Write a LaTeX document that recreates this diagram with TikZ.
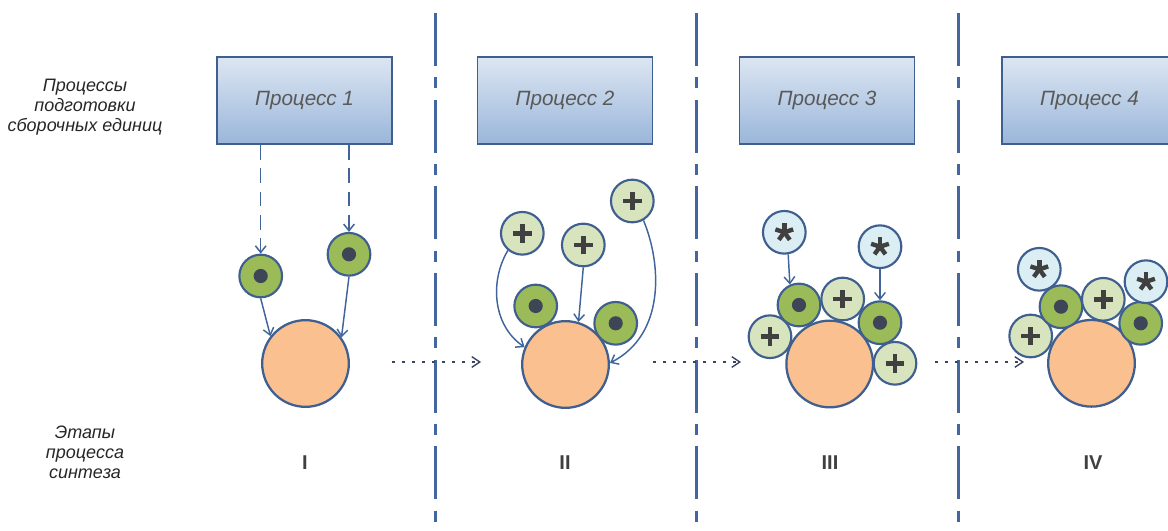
\documentclass[tikz,border=0pt]{standalone}
\usepackage{fontspec}
\setmainfont{Liberation Sans}
\usetikzlibrary{arrows.meta}
\definecolor{bordc}{HTML}{3E5F8F}
\definecolor{arrc}{HTML}{41659A}
\definecolor{divc}{HTML}{4466A0}
\definecolor{greenf}{HTML}{9BBB59}
\definecolor{plusf}{HTML}{D7E4BD}
\definecolor{starf}{HTML}{DBEEF4}
\definecolor{orangef}{HTML}{FAC090}
\definecolor{dotc}{HTML}{3D4556}
\definecolor{markc}{HTML}{404040}
\definecolor{boxtop}{HTML}{DCE6F2}
\definecolor{boxbot}{HTML}{9AB6DA}
\definecolor{txtc}{HTML}{595959}
\definecolor{labc}{HTML}{262626}
\definecolor{dotarc}{HTML}{3A4560}
\begin{document}
\begin{tikzpicture}[x=0.75pt,y=-0.75pt,
  small/.style={circle, draw=bordc, line width=1.6pt, minimum size=32pt, inner sep=0pt},
  greenc/.style={small, fill=greenf, path picture={\fill[dotc] (path picture bounding box.center) circle (5.3pt);}},
  plusc/.style={small, fill=plusf, path picture={
     \draw[markc, line width=3.6pt] ([xshift=-7pt]path picture bounding box.center) -- ([xshift=7pt]path picture bounding box.center);
     \draw[markc, line width=3.6pt] ([yshift=-7pt]path picture bounding box.center) -- ([yshift=7pt]path picture bounding box.center);}},
  starc/.style={small, fill=starf, path picture={
     \foreach \a in {90,162,234,306,18} \draw[markc, line width=3.3pt] (path picture bounding box.center) -- ++(\a:7pt);}},
  big/.style={circle, draw=bordc, line width=1.7pt, fill=orangef, minimum size=65pt, inner sep=0pt},
  pbox/.style={draw=bordc, line width=1.4pt, top color=boxtop, bottom color=boxbot, minimum width=131.25pt, minimum height=65.25pt, font=\fontsize{15.5}{18}\selectfont\itshape, text=txtc},
  arr/.style={arrc, line width=1.1pt, -{Straight Barb[length=5pt,width=8pt]}},
  darr/.style={arr, dash pattern=on 11pt off 6.5pt},
  divl/.style={divc, line width=1.8pt, dash pattern=on 39.75pt off 8.5pt on 8.25pt off 8.5pt},
  dotarr/.style={dotarc, line width=1pt, dash pattern=on 2.5pt off 5pt, -{Straight Barb[length=6pt,width=8pt]}},
  lab/.style={align=center, font=\fontsize{13.5}{15}\selectfont\itshape, text=labc},
  roman/.style={font=\fontsize{15}{18}\selectfont\bfseries, text=markc}
]
\useasboundingbox (0,0) rectangle (1168,531);
\clip (0,0) rectangle (1168,531);

% dividers
\draw[divl] (435.5,13) -- (435.5,531);
\draw[divl] (696.5,13) -- (696.5,531);
\draw[divl] (958.3,13) -- (958.3,531);

% left labels
\node[lab] (l1) at (85,107) {Процессы\\подготовки\\сборочных единиц};
\node[lab] (l2) at (85,452) {Этапы\\процесса\\синтеза};

% process boxes
\node[pbox] (b1) at (304.5,100.5) {Процесс 1};
\node[pbox] (b2) at (565,100.5) {Процесс 2};
\node[pbox] (b3) at (827,100.5) {Процесс 3};
\node[pbox] (b4) at (1089.5,100.5) {Процесс 4};

% Stage I
\node[big] (c1) at (305.5,363.5) {};
\node[greenc] (g11) at (260.7,276) {};
\node[greenc] (g12) at (349,254.3) {};
\draw[darr] (g11.north |- b1.south) -- (g11.north);
\draw[darr] (g12.north |- b1.south) -- (g12.north);
\draw[arr] (g11.south) -- (c1.142);
\draw[arr] (g12.south) -- (c1.36);

% Stage II
\node[big] (c2) at (565.5,364.5) {};
\node[greenc] (g21) at (535.7,306) {};
\node[greenc] (g22) at (615.7,323.3) {};
\node[plusc] (p21) at (522.3,233.3) {};
\node[plusc] (p22) at (583.3,245) {};
\node[plusc] (p23) at (632.3,201) {};
\draw[arr] (p21.230) .. controls (490,280) and (492,325) .. (c2.157);
\draw[arr] (p22.south) -- (c2.73);
\draw[arr] (p23.300) .. controls (662,265) and (665,335) .. (c2.2);

% Stage III
\node[big] (c3) at (829.7,364) {};
\node[plusc] (p31) at (770,336.7) {};
\node[greenc] (g31) at (799,305) {};
\node[plusc] (p32) at (842.7,299) {};
\node[greenc] (g32) at (880,322.7) {};
\node[plusc] (p33) at (895,363.3) {};
\node[starc] (s31) at (784.3,232.3) {};
\node[starc] (s32) at (880,246.7) {};
\draw[arr] (s31.280) -- (g31.114);
\draw[arr] (s32.south) -- (g32.north);

% Stage IV
\node[big] (c4) at (1091.5,363.3) {};
\node[plusc] (p41) at (1030.7,336) {};
\node[greenc] (g41) at (1061,306.7) {};
\node[plusc] (p42) at (1103.3,299.3) {};
\node[greenc] (g42) at (1140.7,323.3) {};
\node[starc] (s41) at (1039.3,269.3) {};
\node[starc] (s42) at (1146,281.7) {};

% stage transitions
\coordinate (d1s) at (392,362); \coordinate (d1e) at (481,362);
\coordinate (d2s) at (653,362); \coordinate (d2e) at (741,362);
\coordinate (d3s) at (935,362); \coordinate (d3e) at (1024,362);
\draw[dotarr] (d1s) -- (d1e);
\draw[dotarr] (d2s) -- (d2e);
\draw[dotarr] (d3s) -- (d3e);

% stage numbers
\node[roman] (r1) at (305,463) {I};
\node[roman] (r2) at (565,463) {II};
\node[roman] (r3) at (830,463) {III};
\node[roman] (r4) at (1093,463) {IV};
\end{tikzpicture}
\end{document}
